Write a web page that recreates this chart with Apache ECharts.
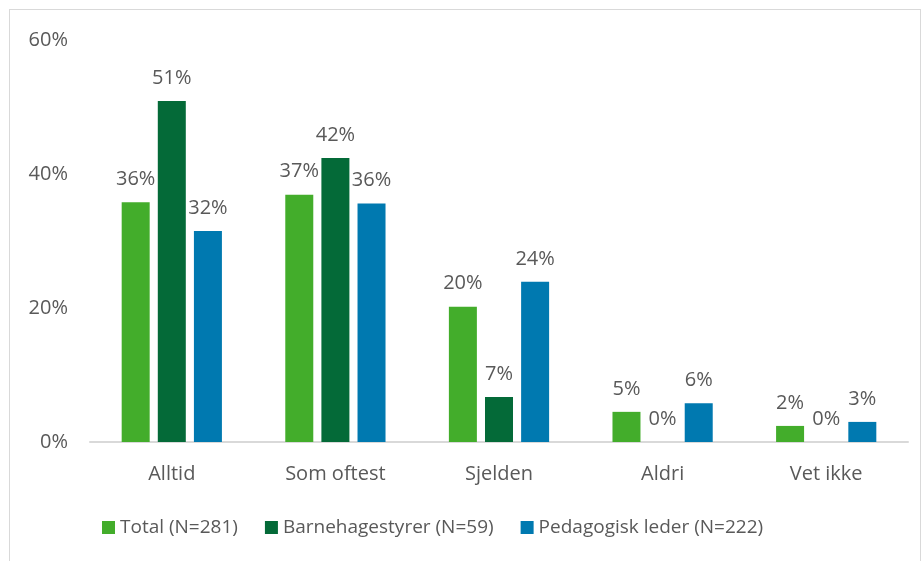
<!DOCTYPE html>
<html>
<head>
<meta charset="utf-8">
<script src="https://cdn.jsdelivr.net/npm/echarts@6/dist/echarts.min.js"></script>
<style>
  html, body { margin: 0; padding: 0; background: #fff; }
  #frame { position: absolute; left: 9px; top: 9px; width: 912px; height: 560px; border: 1px solid #d9d9d9; box-sizing: border-box; }
  #chart { position: absolute; left: 0; top: 0; width: 924px; height: 561px; }
</style>
</head>
<body>
<div id="frame"></div>
<div id="chart"></div>
<script>
// kategorier og verdier (andel i prosent)
const categories = ['Alltid', 'Som oftest', 'Sjelden', 'Aldri', 'Vet ikke']
const seriesNames = ['Total (N=281)', 'Barnehagestyrer (N=59)', 'Pedagogisk leder (N=222)']
const total = [35.8, 36.9, 20.2, 4.5, 2.4]
const styrer = [50.9, 42.4, 6.7, 0, 0]
const leder = [31.5, 35.6, 23.9, 5.8, 3.0]
const yTicks = [0, 20, 40, 60]
const colors = ['#43ad2b', '#046a38', '#0079b0']

const chart = echarts.init(document.getElementById('chart'))
const font = 'Open Sans, Noto Sans, sans-serif'
const textColor = '#595959'
const fontSize = 20

const makeSeries = (name, data, color) => ({
  name,
  type: 'bar',
  data,
  barWidth: 28,
  barGap: '29%',
  itemStyle: { color },
  label: {
    show: true,
    position: 'top',
    distance: 13,
    color: textColor,
    fontFamily: font,
    fontSize,
    formatter: p => Math.round(p.value) + '%'
  }
})

chart.setOption({
  animation: false,
  textStyle: { fontFamily: font },
  grid: { left: 90, right: 16, top: 40, bottom: 119 },
  legend: {
    bottom: 19,
    left: 97,
    itemWidth: 13,
    itemHeight: 13,
    itemGap: 27,
    icon: 'rect',
    textStyle: { color: textColor, fontSize: 19, fontFamily: font },
    data: seriesNames
  },
  xAxis: {
    type: 'category',
    data: categories,
    axisLine: { lineStyle: { color: '#d9d9d9', width: 2 } },
    axisTick: { show: false },
    axisLabel: { color: textColor, fontSize, fontFamily: font, margin: 22 }
  },
  yAxis: {
    type: 'value',
    min: yTicks[0],
    max: yTicks[yTicks.length - 1],
    interval: 20,
    splitLine: { show: false },
    axisLine: { show: false },
    axisTick: { show: false },
    axisLabel: { color: textColor, fontSize, fontFamily: font, margin: 22, formatter: v => v + '%' }
  },
  series: [
    makeSeries(seriesNames[0], total, colors[0]),
    makeSeries(seriesNames[1], styrer, colors[1]),
    makeSeries(seriesNames[2], leder, colors[2])
  ]
})

window.addEventListener('resize', () => chart.resize())
</script>
</body>
</html>
